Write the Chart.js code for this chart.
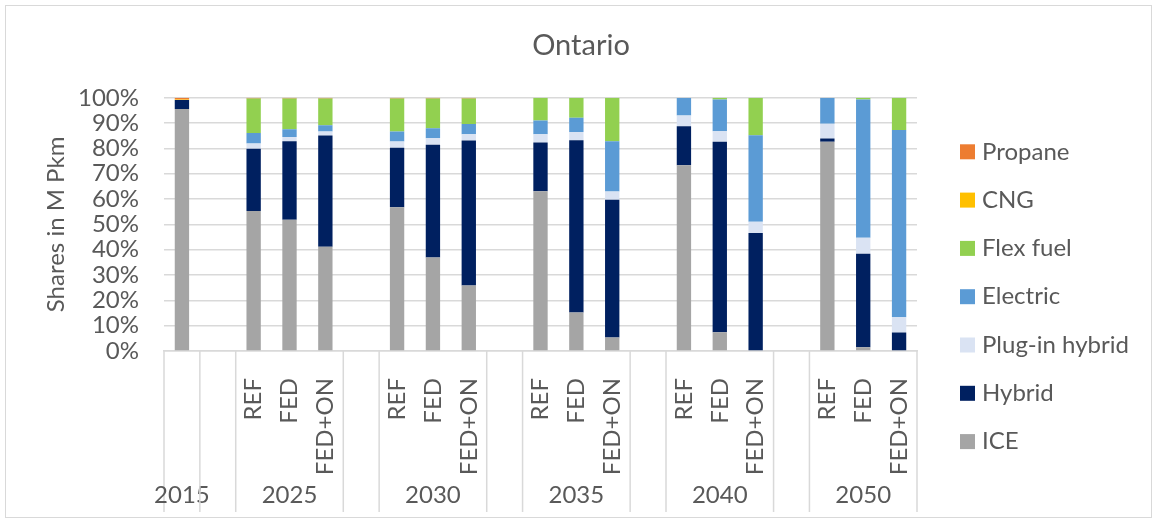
<!DOCTYPE html>
<html>
<head>
<meta charset="utf-8">
<script src="https://cdn.jsdelivr.net/npm/chart.js@4/dist/chart.umd.min.js"></script>
<style>
  body { margin: 0; background: #fff; overflow: hidden; }
  #wrap { position: relative; width: 1153px; height: 523px; }
  #frame { position: absolute; left: 5px; top: 5px; width: 1145px; height: 511px; border: 1px solid #d9d9d9; }
  canvas { position: absolute; left: 0; top: 0; }
</style>
</head>
<body>
<div id="wrap">
  <div id="frame"></div>
  <canvas id="chart"></canvas>
</div>
<script>
// one entry per category slot, '' = spacer slot between years
var years     = ['2015', '', '2025', '2025', '2025', '', '2030', '2030', '2030', '', '2035', '2035', '2035', '', '2040', '2040', '2040', '', '2050', '2050', '2050'];
var scenarios = ['', '', 'REF', 'FED', 'FED+ON', '', 'REF', 'FED', 'FED+ON', '', 'REF', 'FED', 'FED+ON', '', 'REF', 'FED', 'FED+ON', '', 'REF', 'FED', 'FED+ON'];

// shares in %
var ice      = [95.6, null, 55.3, 51.8, 41.2, null, 56.8, 36.9, 25.9, null, 63.1, 15.2, 5.3, null, 73.4, 7.4, 0, null, 82.6, 1.5, 0];
var hybrid   = [3.5, null, 24.6, 31.0, 43.9, null, 23.5, 44.6, 57.2, null, 19.2, 68.0, 54.4, null, 15.4, 75.2, 46.6, null, 1.3, 36.9, 7.3];
var plugin   = [0, null, 2.1, 1.7, 1.6, null, 2.4, 2.5, 2.5, null, 3.3, 3.3, 3.3, null, 4.2, 4.2, 4.4, null, 5.9, 6.3, 6.0];
var electric = [0, null, 4.1, 3.1, 2.5, null, 4.0, 4.0, 4.1, null, 5.4, 5.6, 19.8, null, 7.0, 12.5, 34.2, null, 10.2, 54.6, 74.0];
var flexfuel = [0, null, 13.6, 12.1, 10.5, null, 13.0, 11.7, 10.0, null, 9.0, 7.9, 17.2, null, 0, 0.7, 14.8, null, 0, 0.7, 12.7];
var cng      = [0.2, null, 0, 0, 0, null, 0, 0, 0, null, 0, 0, 0, null, 0, 0, 0, null, 0, 0, 0];
var propane  = [0.7, null, 0.3, 0.3, 0.3, null, 0.3, 0.3, 0.3, null, 0, 0, 0, null, 0, 0, 0, null, 0, 0, 0];

var yTicks = [0, 10, 20, 30, 40, 50, 60, 70, 80, 90, 100];

var grey = '#595959';
var lineCol = '#d9d9d9';
Chart.defaults.font.family = 'Lato';
Chart.defaults.color = grey;

// year labels + separators under the scenario labels
var yearGroups = {
  id: 'yearGroups',
  afterDraw: function(chart) {
    var x = chart.scales.x;
    var ctx = chart.ctx;
    var half = (x.getPixelForValue(1) - x.getPixelForValue(0)) / 2;
    ctx.save();
    ctx.strokeStyle = lineCol;
    ctx.lineWidth = 1.5;
    ctx.fillStyle = grey;
    ctx.font = '24px Lato';
    ctx.textAlign = 'center';
    ctx.textBaseline = 'middle';
    var start = 0;
    for (var i = 1; i <= years.length; i++) {
      if (i === years.length || years[i] !== years[i - 1]) {
        var left = x.getPixelForValue(start) - half;
        var right = x.getPixelForValue(i - 1) + half;
        ctx.beginPath();
        ctx.moveTo(left, x.top);
        ctx.lineTo(left, x.top + 161);
        if (i === years.length) {
          ctx.moveTo(right, x.top);
          ctx.lineTo(right, x.top + 161);
        }
        ctx.stroke();
        if (years[start]) ctx.fillText(years[start], (left + right) / 2, x.top + 144);
        start = i;
      }
    }
    ctx.restore();
  }
};

// legend to the right, top series first
var sideLegend = {
  id: 'sideLegend',
  afterDraw: function(chart) {
    var ctx = chart.ctx;
    var area = chart.chartArea;
    var sets = chart.data.datasets;
    ctx.save();
    ctx.font = '24px Lato';
    ctx.textAlign = 'left';
    ctx.textBaseline = 'middle';
    for (var k = 0; k < sets.length; k++) {
      var d = sets[sets.length - 1 - k];
      var y = area.top + 54 + k * 48.3;
      ctx.fillStyle = d.backgroundColor;
      ctx.fillRect(area.right + 43, y - 7.5, 15, 15);
      ctx.fillStyle = grey;
      ctx.fillText(d.label, area.right + 65, y);
    }
    ctx.restore();
  }
};

function ds(label, data, color) {
  return { label: label, data: data, backgroundColor: color, borderWidth: 0, barPercentage: 0.4, categoryPercentage: 1.0 };
}

var ctx = document.getElementById('chart').getContext('2d');
var chart = new Chart(ctx, {
  type: 'bar',
  data: {
    labels: scenarios,
    datasets: [
      ds('ICE', ice, '#a5a5a5'),
      ds('Hybrid', hybrid, '#002060'),
      ds('Plug-in hybrid', plugin, '#dae3f3'),
      ds('Electric', electric, '#5b9bd5'),
      ds('Flex fuel', flexfuel, '#92d050'),
      ds('CNG', cng, '#ffc000'),
      ds('Propane', propane, '#ed7d31')
    ]
  },
  options: {
    responsive: true,
    maintainAspectRatio: false,
    animation: false,
    layout: { padding: { left: 9, right: 0, top: 0, bottom: 0 } },
    plugins: {
      title: {
        display: true,
        text: 'Ontario',
        color: grey,
        font: { size: 29, weight: 'normal' },
        padding: { top: 28, bottom: 35 }
      },
      legend: { display: false },
      tooltip: { enabled: false }
    },
    scales: {
      x: {
        stacked: true,
        grid: { display: false },
        border: { display: true, color: lineCol, width: 1.5 },
        ticks: { autoSkip: false, minRotation: 90, maxRotation: 90, padding: 19, color: grey, font: { size: 24 } },
        afterFit: function(s) { s.height = 172; }
      },
      y: {
        stacked: true,
        min: 0,
        max: 100,
        afterBuildTicks: function(s) { s.ticks = yTicks.map(function(v) { return { value: v }; }); },
        grid: { color: lineCol, lineWidth: 1.5, drawTicks: false },
        border: { display: false },
        ticks: { autoSkip: false, padding: 25, color: grey, font: { size: 24 }, callback: function(v) { return v + '%'; } },
        title: { display: true, text: 'Shares in M Pkm', color: grey, font: { size: 24 }, padding: { top: 33, bottom: 0 } },
        afterFit: function(s) { s.width = 155; }
      },
      // empty right axis, only keeps room for the legend
      yLegend: {
        position: 'right',
        grid: { display: false },
        border: { display: false },
        ticks: { display: false },
        afterFit: function(s) { s.width = 236; }
      }
    }
  },
  plugins: [yearGroups, sideLegend]
});
</script>
</body>
</html>
